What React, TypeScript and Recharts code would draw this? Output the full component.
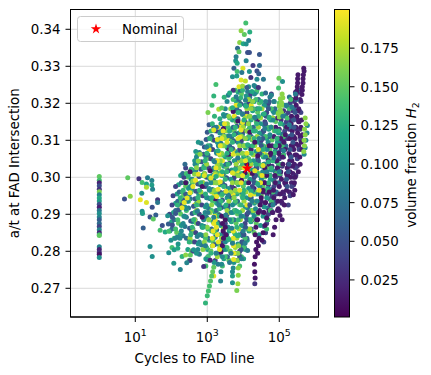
import React from "react";
import { CartesianGrid, Scatter, ScatterChart, Symbols, XAxis, YAxis } from "recharts";

type Pt = [number, number];

const singles: [number, number, number][] = [
  [.79,.2999,.15],[1.10,.2996,.03],[1.34,.2999,.085],[1.19,.2986,.14],[1.31,.2982,.12],[1.31,.2973,.175],[1.46,.2991,.09],[1.46,.2979,.11],
  [1.48,.2968,.09],[1.18,.2957,.1],[.86,.2949,.165],[.70,.2941,.05],[1.14,.2939,.195],[1.31,.2932,.19],[1.62,.2939,.03],[1.62,.2932,.08],
  [1.47,.2919,.05],[1.19,.2908,.1],[1.2,.2902,.11],[1.41,.2893,.05],[1.57,.2898,.06],[1.5,.2887,.15],[1.22,.2863,.06],[1.75,.287,.05],
  [1.9,.2896,.1],[1.92,.2874,.06],[2.03,.2871,.05],[1.69,.2857,.14],[1.83,.2852,.12],[1.93,.2854,.14],[1.99,.283,.1],[2.11,.2835,.09],
  [2.16,.2838,.09],[1.41,.2813,.1],[1.47,.2786,.1],[1.93,.2796,.1],[2.08,.2804,.11],[2.18,.2808,.12],[2.07,.2768,.105],[2.25,.2751,.09],
  [2.43,.2769,.09],[2.3,.2786,.13],[2.53,.279,.15],[2.4,.279,.165],[2.62,.2804,.1],[2.9,.2759,.03],[2.99,.2778,.1],[3.08,.2776,.02],
  [3.37,.272,.09],[3.18,.2733,.19],[3.7,.2733,.11],[3.7,.2715,.1],[3.82,.2694,.16],[3.85,.2712,.17],[4.32,.2712,.03],[2.95,.266,.13],
  [3.0,.268,.135],[3.03,.2693,.14],[3.06,.2706,.14],[3.09,.272,.145],[3.12,.2733,.145],[3.15,.2745,.15],[3.18,.2757,.15],
  [4.07,.3417,.14],[3.94,.3396,.165],[4.18,.3393,.125],[4.03,.3386,.15],[4.15,.337,.085],[3.9,.3364,.165],[4.0,.3361,.12],[4.08,.336,.1],
  [3.84,.3349,.07],[3.88,.3339,.15],[4.12,.3337,.05],[4.17,.3337,.05],[4.45,.3332,.055],[3.8,.3326,.085],[3.79,.3315,.1],[3.83,.3308,.12],
  [4.08,.3315,.09],[4.27,.3302,.035],[4.45,.3302,.07],[3.74,.3295,.06],[3.83,.3286,.14],[3.99,.3295,.19],[3.96,.3283,.08],[4.17,.3286,.1],
  [4.38,.3287,.05],[4.43,.328,.06],[3.7,.3272,.1],[3.82,.3274,.11],[3.94,.3263,.19],[4.06,.326,.18],[4.21,.327,.03],[4.56,.3265,.08],
  [4.99,.3268,.155],[5.09,.3259,.1],[3.24,.3251,.14],[3.18,.322,.13],[3.13,.3195,.14],[3.02,.3175,.16],[3.47,.3216,.13],[3.32,.3184,.175],
  [3.4,.3187,.15],[4.98,.3241,.14],[3.88,.3245,.19],[3.98,.3247,.17],[4.1,.3243,.06],[4.3,.3248,.09],[4.42,.3243,.03],[3.72,.3235,.03],
  [3.62,.3228,.12],[4.62,.3228,.07],[4.78,.3222,.09],[4.24,.3232,.12],
];

const column1 = [.3002,.2992,.2985,.2977,.2968,.2961,.2953,.2944,.2936,.2927,.2919,.291,.2902,.2893,.2885,.2875,.2867,.2858,.285,.2845,.2843,.2812,.2805,.2797,.2792,.2783];
const column1H2 = [.15,.14,.02,.05,.03,.16,.09,.12,.11,.05,.02,.08,.1,.09,.06,.07,.04,.09,.02,.13,.15,.09,.02,.03,.01,.1];

// underlying body of the cloud: each row is [a/t, then log10 cycles read along that level]
const deepTeal: number[][] = [
  [.278,2.96,3.46,4.01],[.2805,2.46,3.01,3.52,4.06],[.283,2.51,3.06,3.55,4.11],[.2855,1.96,2.56,3.12,3.61,4.16],[.288,2.01,2.6,3.16,3.67,4.21],
  [.2905,2.06,2.66,3.22,3.71,4.26],[.293,2.12,2.7,3.26,3.76,4.31],[.2955,2.16,2.76,3.3,3.82,4.36],[.298,2.2,2.81,3.36,3.86,4.42],[.3005,2.26,2.86,3.41,3.9,4.46],
  [.303,2.91,3.46,3.96,4.52],[.3055,2.96,3.5,4.01,4.56],[.308,3.01,3.56,4.06,4.6],[.3105,3.06,3.61,4.12,4.66],[.313,3.66,4.16,4.71],
  [.3155,3.7,4.21,4.76],[.318,3.76,4.26,4.82],[.3205,3.81,4.3,4.86],[.323,3.86,4.36],
];
const deepBlue: number[][] = [
  [.2792,2.78,3.33,3.88],[.2817,2.84,3.38,3.93],[.2842,2.33,2.88,3.42,3.98],[.2867,2.38,2.92,3.48,4.03,4.58],[.2892,2.42,2.98,3.53,4.08,4.64],
  [.2917,2.48,3.03,3.58,4.12,4.68],[.2942,2.53,3.08,3.62,4.18,4.73],[.2967,2.58,3.14,3.68,4.23,4.78],[.2992,2.62,3.18,3.73,4.28,4.84],[.3017,2.68,3.23,3.78,4.32,4.88],
  [.3042,2.74,3.28,3.82,4.38,4.93],[.3067,2.78,3.32,3.88,4.44,4.98],[.3092,2.83,3.38,3.94,4.48,5.02],[.3117,3.43,3.98,4.53,5.08],[.3142,3.48,4.02,4.58,5.14],
  [.3167,3.54,4.08,4.62,5.18],[.3192,4.13,4.68,5.22],[.3217,4.18,4.74,5.28],
];
const deepGreen: number[][] = [
  [.2776,2.5,3.05,3.6],[.2801,2.56,3.1,3.64],[.2826,2.6,3.16,3.7],[.2851,2.15,2.65,3.2,3.75,4.3],[.2876,2.2,2.7,3.24,3.8,4.36],[.2901,2.26,2.76,3.3,3.84,4.4],
  [.2926,2.3,2.8,3.35,3.9,4.46],[.2951,2.34,2.85,3.4,3.96,4.5],[.2976,2.4,2.9,3.46,4,4.55],[.3001,2.46,2.96,3.5,4.05,4.6],[.3026,3,3.54,4.1,4.66],
  [.3051,3.05,3.6,4.15,4.7],[.3076,3.1,3.66,4.2,4.74],[.3101,3.16,3.7,4.25,4.8],[.3126,3.2,3.75,4.3,4.86],[.3151,3.8,4.36,4.9],[.3176,3.85,4.4,4.96],[.3201,3.9,4.45,5],[.3226,3.95],
];
const deepDark: number[][] = [
  [.2905,4.55,4.82],[.293,4.6,4.88,5.08],[.2955,4.66,4.92,5.12,5.35],[.298,4.7,4.98,5.18,5.4],[.3005,4.75,5.02,5.22,5.46],[.303,4.8,5.08,5.28,5.5],
  [.3055,4.85,5.12,5.32,5.52],[.308,4.9,5.18,5.38,5.55],[.3105,4.95,5.22,5.42,5.6],[.313,5,5.28,5.48,5.58],[.3155,5.05,5.32,5.52],[.318,5.12,5.38,5.56],[.3205,5.42,5.6],[.323,5.45,5.58],
];
const bodyTeal: number[][] = [
  [.277,3.19,3.74],[.2795,2.7,3.24,3.78],[.282,2.19,2.75,3.28,3.85],[.2845,2.25,2.78,3.35,3.88,4.44],[.287,2.28,2.85,3.38,3.95,4.48],
  [.2895,2.35,2.88,3.45,3.98,4.55],[.292,2.38,2.95,3.48,4.05,4.58],[.2945,2.45,2.98,3.55,4.08,4.65],[.297,2.48,3.05,3.58,4.15,4.68],
  [.2995,2.55,3.08,3.65,4.18,4.75],[.302,2.58,3.15,3.68,4.25,4.78],[.3045,2.65,3.18,3.75,4.28,4.85],[.307,2.68,3.25,3.78,4.35,4.88],
  [.3095,2.75,3.28,3.85,4.38,4.95],[.312,3.35,3.88,4.45,4.98],[.3145,3.38,3.95,4.48,5.05],[.317,3.45,3.98,4.55,5.08],[.3195,4.05,4.58,5.15],[.322,4.08],[.3245,4.15],
];
const bodyBlue: number[][] = [
  [.2785,3.02,3.56],[.281,2.96,3.48,4.03],[.2835,2.42,3.02,3.55,4.1],[.286,2.02,2.6,3.12,3.68,4.22],[.2885,2.08,2.66,3.2,3.74,4.26],
  [.291,2.12,2.72,3.25,3.78,4.3,4.78],[.2935,2.18,2.76,3.32,3.84,4.38,4.88],[.296,2.22,2.82,3.35,3.88,4.42,4.92],[.2985,2.28,2.88,3.42,3.94,4.48,4.98],
  [.301,2.32,2.92,3.45,4.0,4.52,5.02],[.3035,2.38,2.98,3.52,4.05,4.58,5.08],[.306,3.02,3.58,4.08,4.62,5.12],[.3085,3.08,3.62,4.15,4.68,5.18],
  [.311,3.12,3.68,4.22,4.72,5.28],[.3135,3.18,3.72,4.28,4.78,5.32],[.316,3.78,4.32,4.82,5.38],[.3185,3.82,4.38,4.88,5.42],[.321,3.88,4.42,5.48],[.3235,3.92,5.52],
];
const bodyNavy: number[][] = [
  [.2775,2.52,3.22,3.84],[.28,2.6,3.35,3.9],[.2825,2.65,3.38,3.96,4.57],[.285,2.68,3.45,3.98,4.62],[.2875,2.75,3.5,4.05,4.65],
  [.29,1.95,2.78,3.55,4.1,4.7],[.2925,2.02,2.85,3.58,4.15,4.75,5.25],[.295,2.05,2.88,3.65,4.2,4.8,5.3],[.2975,2.12,2.95,3.68,4.25,4.85,5.35],
  [.3,2.35,3.0,3.75,4.3,4.9,5.4],[.3025,2.4,3.05,3.8,4.35,4.95,5.45],[.305,3.1,3.85,4.4,5.0,5.5],[.3075,3.15,3.9,4.45,5.05,5.55],
  [.31,3.2,3.95,4.5,5.1,5.6],[.3125,3.26,4.0,4.55,5.15],[.315,4.05,4.6,5.2,5.55],[.3175,4.1,4.65,5.25,5.6],[.32,4.15,4.7,5.3],[.3225,4.2,4.78],
];
const bodyGreen: number[][] = [
  [.276,2.96,3.42,3.9],[.2785,3.02,3.5,3.95],[.281,2.02,2.98,3.55,4.02],[.2835,2.08,2.95,3.58,4.05],[.286,2.12,3.02,3.65,4.12,4.65],
  [.2885,2.18,3.05,3.68,4.15,4.68],[.291,2.22,2.42,3.12,3.75,4.22,4.75],[.2935,2.28,2.48,3.15,3.78,4.25,4.78],[.296,2.32,2.55,3.22,3.85,4.32,4.82],
  [.2985,2.38,2.58,3.25,3.88,4.35,4.88],[.301,2.42,2.65,3.32,3.95,4.42,4.92,5.02],[.3035,2.7,3.36,3.98,4.45,4.98,5.08],[.306,2.72,3.42,4.05,4.52,5.12],
  [.3085,3.48,4.08,4.55,5.08],[.311,3.52,4.15,4.62,5.12],[.3135,3.58,4.18,4.68,5.18],[.316,3.62,4.25,4.72,5.22],[.3185,3.68,4.28,4.78,5.28],[.321,3.72,4.35,5.32],[.3235,3.78,4.38],
];
const bodyLime: number[][] = [
  [.2785,3.28],[.281,3.35,3.78],[.2835,2.52,3.4,3.82],[.286,2.58,3.45,3.88,4.18],[.2885,2.65,3.5,3.92,4.22],[.291,2.7,3.55,3.98,4.28],
  [.2935,2.75,3.6,4.02,4.35],[.296,2.82,3.12,3.65,4.08,4.42],[.2985,2.88,3.18,3.7,4.12,4.48],[.301,2.92,3.22,3.75,4.18,4.52],[.3035,2.98,3.28,3.8,4.22,4.58],
  [.306,3.35,3.85,4.28,4.65],[.3085,3.4,3.9,4.32,4.7],[.311,3.45,3.95,4.38],[.3135,4.0,4.42,4.78],[.316,4.05,4.48,4.82],[.3185,4.1,4.52],[.321,4.15],
];
const bodyDark: number[][] = [
  [.2885,4.4,4.68],[.291,4.45,4.72,5.0],[.2935,4.5,4.78,5.06],[.296,4.55,4.82,5.1,5.28],[.2985,4.6,4.88,5.15,5.34],[.301,4.65,4.92,5.2,5.38],
  [.3035,4.7,4.98,5.25,5.42],[.306,4.75,5.02,5.3,5.48],[.3085,4.8,5.08,5.35,5.54],[.311,4.85,5.12,5.4,5.58],[.3135,4.9,5.18,5.44],[.316,4.95,5.22,5.48],
  [.3185,5.28,5.54],[.321,5.35,5.58],[.3235,5.56],[.297,3.75,4.3],[.3075,3.6,4.22],[.3155,3.85,4.4],
];
const bodyYellow: number[][] = [
  [.2905,3.05,3.62],[.2955,3.2,3.72,4.3],[.2985,2.7,3.3],[.3015,3.38,3.85,4.38],[.3045,3.42,3.9],[.3075,3.05,3.72],[.3105,3.55,4.28],[.3135,3.3,3.92],[.3165,3.75,4.1],[.3195,3.8,4.22],[.2925,2.65,4.1],[.3065,4.55],
];

const rowLayers: [number[][], number][] = [
  [deepDark, .03], [deepBlue, .08], [deepTeal, .115], [deepGreen, .15],
  [bodyDark, .018], [bodyNavy, .04], [bodyBlue, .07], [bodyTeal, .105], [bodyYellow, .193], [bodyGreen, .14], [bodyLime, .17],
];

const darkA: Pt[] = [
  [5.68,.3295],[5.69,.3287],[5.67,.3277],[5.66,.3266],[5.66,.3255],[5.64,.3245],[5.64,.3235],[5.63,.3224],
  [5.52,.3277],[5.51,.3266],[5.51,.3255],[5.5,.3245],[5.49,.3234],[5.47,.3224],[5.46,.3214],
  [5.47,.3195],[5.52,.318],[5.49,.3165],[5.54,.315],[5.46,.3135],[5.51,.312],[5.44,.3105],[5.47,.309],[5.4,.3075],[5.44,.306],[5.35,.3045],[5.37,.303],[5.3,.3015],[5.31,.3],
  [5.62,.3155],[5.6,.3135],[5.64,.3115],[5.61,.3095],[5.63,.3075],[5.57,.3055],[5.58,.3035],[5.53,.3015],[5.44,.3],[5.42,.2985],[5.43,.2965],[5.39,.2953],
  [5.34,.3165],[5.33,.3145],[5.36,.3125],[5.29,.3105],[5.33,.3085],[5.27,.3065],[5.29,.3045],[5.22,.3025],[5.24,.3005],[5.18,.2985],[5.2,.2965],[5.15,.2945],[5.14,.2925],
  [5.2,.3135],[5.17,.3115],[5.13,.3095],[5.16,.3075],[5.09,.3055],[5.1,.3035],[5.04,.3015],[5.06,.2995],[5,.2975],[5.02,.2955],[4.96,.2935],[4.97,.2915],[5.08,.2885],[5.02,.2897],
  [5.04,.3105],[5,.3085],[4.98,.3065],[4.93,.3045],[4.95,.3025],[4.88,.3005],[4.89,.2985],[4.84,.2965],[4.85,.2945],[4.79,.2925],[4.81,.2905],[4.95,.291],[4.91,.2885],[4.87,.2865],[4.83,.2845],
];
const blueA: Pt[] = [
  [5.44,.3175],[5.4,.3155],[5.41,.3135],[5.35,.3115],[5.38,.3095],[5.3,.3075],[5.33,.3055],[5.27,.3035],[5.25,.3015],[5.2,.2995],[5.22,.2975],
  [3.05,.3142],[3,.3122],[2.97,.3102],[2.92,.3082],[2.9,.3062],[2.84,.3042],[2.82,.3022],[2.77,.3002],[2.74,.2982],[2.69,.2962],[2.66,.2942],[2.62,.2922],[2.58,.2902],[2.54,.2882],[2.51,.2862],
  [3.93,.3198],[3.9,.3178],[3.85,.3158],[3.82,.3138],[3.78,.3118],[3.74,.3098],[3.7,.3078],[3.66,.3058],[3.62,.3038],[3.58,.3018],[3.54,.2998],[3.49,.2978],[3.46,.2958],[3.42,.2938],[3.38,.2918],[3.34,.2898],[3.3,.2878],[3.26,.2858],[3.22,.2838],[3.19,.2818],
  [4.72,.3205],[4.7,.3185],[4.64,.3165],[4.62,.3145],[4.57,.3125],[4.54,.3105],[4.5,.3085],[4.46,.3065],[4.42,.3045],[4.38,.3025],[4.34,.3005],[4.3,.2985],[4.26,.2965],[4.22,.2945],[4.18,.2925],[4.14,.2905],[4.1,.2885],[4.06,.2865],[4.02,.2845],[3.98,.2825],[3.94,.2805],[3.9,.2785],
  [2.4,.2955],[2.35,.2938],[2.28,.2925],[2.2,.2912],[2.12,.2902],[2.03,.2892],
];
const tealA: Pt[] = [
  [2.7,.3055],[2.66,.3035],[2.62,.3015],[2.58,.2995],[2.53,.2975],[2.5,.2955],[2.45,.2935],[2.41,.2915],[2.37,.2895],[2.33,.2875],[2.28,.2855],[2.24,.2835],
  [3.55,.3205],[3.5,.3185],[3.47,.3165],[3.42,.3145],[3.39,.3125],[3.34,.3105],[3.31,.3085],[3.26,.3065],[3.22,.3045],[3.18,.3025],[3.14,.3005],[3.1,.2985],[3.06,.2965],[3.02,.2945],[2.98,.2925],[2.94,.2905],[2.9,.2885],[2.86,.2865],[2.82,.2845],[2.78,.2825],[2.74,.2805],
  [4.38,.3265],[4.34,.3245],[4.31,.3225],[4.26,.3205],[4.23,.3185],[4.18,.3165],[4.15,.3145],[4.1,.3125],[4.06,.3105],[4.02,.3085],[3.98,.3065],[3.94,.3045],[3.9,.3025],[3.86,.3005],[3.82,.2985],[3.78,.2965],[3.74,.2945],[3.7,.2925],[3.66,.2905],[3.62,.2885],[3.58,.2865],[3.54,.2845],[3.5,.2825],[3.46,.2805],[3.42,.2785],[3.4,.2765],[3.38,.2745],
  [4.85,.3175],[4.82,.3155],[4.77,.3135],[4.74,.3115],[4.69,.3095],[4.66,.3075],[4.62,.3055],[4.58,.3035],[4.54,.3015],[4.5,.2995],[4.46,.2975],[4.42,.2955],[4.38,.2935],[4.34,.2915],[4.3,.2895],
  [5.78,.314],[5.77,.312],[5.74,.31],[5.72,.308],[5.69,.3062],
  [3.78,.2795],[3.76,.2775],[3.72,.2755],[3.7,.2745],
];
const greenA: Pt[] = [
  [3.2,.3165],[3.14,.3145],[3.1,.3125],[3.07,.3105],[3.02,.3085],[2.99,.3065],[2.94,.3045],[2.9,.3025],[2.86,.3005],[2.82,.2985],[2.78,.2965],[2.74,.2945],[2.7,.2925],[2.66,.2905],[2.62,.2885],[2.58,.2865],[2.54,.2845],[2.5,.2825],
  [3.98,.3235],[3.93,.3215],[3.9,.3195],[3.86,.3175],[3.81,.3155],[3.78,.3135],[3.74,.3115],[3.7,.3095],[3.66,.3075],[3.62,.3055],[3.58,.3035],[3.54,.3015],[3.5,.2995],[3.46,.2975],[3.42,.2955],[3.38,.2935],[3.34,.2915],[3.3,.2895],[3.26,.2875],[3.22,.2855],[3.18,.2835],[3.14,.2815],[3.1,.2795],
  [4.52,.3225],[4.5,.3205],[4.46,.3185],[4.42,.3165],[4.37,.3145],[4.34,.3125],[4.3,.3105],[4.26,.3085],[4.22,.3065],[4.18,.3045],[4.14,.3025],[4.1,.3005],[4.06,.2985],[4.02,.2965],[3.98,.2945],[3.94,.2925],[3.9,.2905],[3.86,.2885],[3.82,.2865],[3.78,.2845],
  [5.03,.3145],[4.98,.3125],[4.94,.3105],[4.9,.3085],[4.86,.3065],[4.82,.3045],[4.78,.3025],[4.74,.3005],[4.7,.2985],[4.66,.2965],
  [2.55,.3022],[2.47,.3005],[2.42,.2985],[2.33,.2965],[2.25,.2945],[2.17,.2925],
];
const limeA: Pt[] = [
  [5.08,.3225],[5.03,.3212],[5.06,.3202],[5,.3192],[5.03,.3182],[4.97,.3172],[5,.3163],[5.1,.3215],[5.08,.3195],[5.06,.3175],
  [3.65,.3185],[3.6,.3165],[3.56,.3145],[3.52,.3125],[3.48,.3105],[3.44,.3085],[3.4,.3065],[3.36,.3045],[3.32,.3025],[3.28,.3005],[3.24,.2985],[3.2,.2965],[3.16,.2945],[3.12,.2925],[3.08,.2905],[3.04,.2885],[3,.2865],[2.96,.2845],[2.92,.2825],[2.88,.2805],
  [4.26,.3205],[4.22,.3185],[4.18,.3165],[4.14,.3145],[4.1,.3125],[4.06,.3105],[4.02,.3085],[3.98,.3065],[3.94,.3045],[3.9,.3025],[3.86,.3005],[3.82,.2985],[3.78,.2965],[3.74,.2945],
  [3.87,.2815],[3.85,.2795],[3.84,.2775],[3.86,.2755],[3.86,.2735],
  [5.72,.316],[5.74,.3145],[5.7,.313],[5.72,.3115],[5.69,.31],[5.7,.3085],[5.68,.307],
  [2.8,.3062],[2.75,.3044],[2.7,.3026],[2.65,.3008],[2.6,.299],
];
const yellowA: Pt[] = [
  [3.48,.3145],[3.44,.3125],[3.4,.3105],[3.36,.3085],[3.32,.3065],[3.28,.3045],[3.24,.3025],[3.2,.3005],
  [3.2,.2895],[3.18,.2875],[3.16,.2855],[3.14,.2835],[3.15,.2815],[3.22,.2885],[3.25,.2865],[3.28,.2845],[3.31,.2825],[3.34,.2805],
  [3.72,.2855],[3.72,.2835],[3.73,.2815],[3.74,.2795],[3.73,.2778],
  [4.1,.3065],[4.06,.3045],[4.02,.3025],[3.98,.3005],[3.94,.2985],[3.9,.2965],
  [2.75,.3008],[2.67,.2992],[2.6,.2975],[2.52,.2958],[2.44,.2944],[2.36,.2932],[2.3,.2918],
  [3.4,.3008],[3.36,.2988],[3.3,.2968],[3.26,.2948],
  [4.52,.3005],[4.48,.2985],[4.44,.2965],[3.98,.3148],[3.94,.3128],[3.9,.3108],
];
const darkB: Pt[] = [
  [4.72,.3085],[4.76,.3065],[4.69,.3045],[4.6,.3025],[4.65,.3005],[4.58,.2985],[4.55,.2965],[4.5,.2945],[4.47,.2925],[4.42,.2905],[4.38,.2885],[4.35,.2865],[4.33,.2845],[4.37,.2825],[4.35,.2805],[4.33,.2785],[4.31,.2765],[4.32,.2745],[4.33,.2728],[4.44,.2835],[4.42,.2815],[4.4,.2795],
  [3.4,.2895],[3.42,.2875],[3.44,.2855],[3.45,.2835],[3.42,.2815],[3.38,.2798],[3.5,.2885],[3.5,.2865],[3.52,.2845],
  [4.1,.3035],[4.05,.3012],[3.95,.2992],[4.15,.2985],[4.25,.301],[4.4,.3058],[4.32,.3095],[4.18,.3122],[3.85,.3152],[3.72,.3178],[3.45,.3132],[3.08,.3018],[2.86,.2975],[2.52,.3015],[2.4,.2985],
  [4.72,.296],[4.62,.2932],[4.58,.2905],[4.65,.289],[4.6,.287],[4.55,.285],[4.52,.283],[3.6,.3062],[3.22,.2942],[2.86,.2892],
];
const tealB: Pt[] = [
  [4.06,.3208],[3.98,.3172],[3.6,.3112],[3.2,.3042],[2.98,.2982],[2.72,.2908],[3.58,.2952],[3.94,.2895],[4.25,.2935],[4.44,.3105],[3.85,.3052],[4.32,.3162],[4.6,.3132],[4.85,.3052],[5.12,.3072],[5.28,.3142],[5.35,.319],[5.45,.3225],[5.2,.3195],[5.1,.3165],
  [3.02,.2905],[3.18,.2892],[3.32,.2925],[3.52,.2898],[3.68,.2862],[3.7,.2822],[3.66,.2795],[4,.2855],[4.05,.2822],[4.12,.2802],[3.95,.278],[3.62,.277],[3.3,.2765],[3.25,.2795],[2.95,.2815],[2.72,.284],
  [2.98,.3082],[3.25,.3135],[3.58,.3222],[3.8,.3218],[4.12,.3232],[4.62,.3205],[4.85,.3205],[5,.3015],[4.82,.2925],[4.66,.3015],
];
const greenB: Pt[] = [
  [4.02,.3155],[3.62,.3125],[3.3,.3072],[3.05,.3002],[3.52,.2925],[3.82,.2908],[4.22,.2962],[4.35,.3035],[4.55,.3075],[4.7,.3042],[4.12,.3088],[3.78,.3022],[3.42,.3015],[3.12,.2945],[2.88,.2865],[3.6,.2832],[3.85,.2842],[4.2,.2885],[4.28,.3125],[4.42,.3185],[3.7,.3188],[3.35,.3158],[3.55,.3065],
  [4,.2955],[4.4,.2982],[3.24,.3002],[2.95,.2955],[4.08,.3192],[4.72,.3162],[4.9,.3125],[4.58,.3172],
];
const yellowB: Pt[] = [
  [3.7,.3012],[4.32,.3018],[4.55,.3032],[3.55,.3095],[3.28,.3102],[3.85,.3105],[4.2,.2952],[3.52,.2962],[3.1,.2998],[2.92,.3005],[4.42,.3075],[3.18,.3128],[3.72,.3062],
];

const layers: [Pt[], number][] = [
  [darkA, .015], [blueA, .055], [tealA, .095], [greenA, .13], [limeA, .165], [darkB, .012], [yellowA, .193], [tealB, .085], [greenB, .125], [yellowB, .19],
];

const nominal = [{ cycles: 10 ** 4.11, at: .3024 }];
const xTicks = [10, 1000, 100000];
const yTicks = [.27, .28, .29, .30, .31, .32, .33, .34];
const barTicks = [.025, .05, .075, .1, .125, .15, .175];

const viridis = ["#440154", "#482475", "#414487", "#355f8d", "#2a788e", "#21918c", "#22a884", "#44bf70", "#7ad151", "#bddf26", "#fde725"];
const h2Min = .001;
const h2Max = .2;

const hex = (s: string, i: number) => parseInt(s.slice(i, i + 2), 16);
function h2Color(v: number) {
  const t = (Math.min(h2Max, Math.max(h2Min, v)) - h2Min) / (h2Max - h2Min) * (viridis.length - 1);
  const i = Math.min(viridis.length - 2, Math.floor(t));
  const f = t - i;
  const c = [1, 3, 5].map((k) => Math.round(hex(viridis[i], k) + (hex(viridis[i + 1], k) - hex(viridis[i], k)) * f));
  return `rgb(${c[0]},${c[1]},${c[2]})`;
}

const FONT = "'DejaVu Sans'";
const FS = 13.4;

const toRows = (pts: Pt[]) => pts.map(([x, y]) => ({ cycles: 10 ** x, at: y }));
const rowsToPts = (rows: number[][]) => rows.flatMap(([y, ...xs]) => xs.map((x) => [x, y] as Pt));
const dot = (fill: string) => (p: any) => <circle cx={p.cx} cy={p.cy} r={2.5} fill={fill} />;

function LogTick({ x, y, payload }: any) {
  const exp = Math.round(Math.log10(payload.value));
  return (
    <text x={x} y={y + 18} textAnchor="middle" fontFamily={FONT} fontSize={FS} fill="#000">
      10<tspan dy={-6} fontSize={FS * .7}>{exp}</tspan>
    </text>
  );
}

function ColorBar() {
  const top = 9.5, bottom = 317, left = 334.5, right = 349.5;
  const pos = (v: number) => bottom - (v - h2Min) / (h2Max - h2Min) * (bottom - top);
  return (
    <svg width={431} height={375} style={{ position: "absolute", left: 0, top: 0, pointerEvents: "none" }}>
      <defs>
        <linearGradient id="vir" x1="0" y1="1" x2="0" y2="0">
          {viridis.map((c, i) => <stop key={c} offset={i / (viridis.length - 1)} stopColor={c} />)}
        </linearGradient>
      </defs>
      <rect x={70.5} y={9.5} width={248} height={307.5} fill="none" stroke="#000" strokeWidth={1} />
      <rect x={left} y={top} width={right - left} height={bottom - top} fill="url(#vir)" stroke="#000" strokeWidth={1} />
      {barTicks.map((v) => (
        <g key={v}>
          <line x1={right} x2={right + 5} y1={pos(v)} y2={pos(v)} stroke="#000" />
          <text x={right + 11} y={pos(v) + 5} fontFamily={FONT} fontSize={FS} fill="#000">{v.toFixed(3)}</text>
        </g>
      ))}
      <text transform="translate(416,165) rotate(-90)" textAnchor="middle" fontFamily={FONT} fontSize={FS} fill="#000">
        volume fraction <tspan fontStyle="italic">H</tspan><tspan dy={3} fontSize={FS * .7}>2</tspan>
      </text>
      <rect x={77.5} y={16.5} width={106} height={25} rx={3} fill="#fff" fillOpacity={.8} stroke="#ccc" />
      <Symbols type="star" size={34} cx={96} cy={29} fill="#ff0000" />
      <text x={122} y={34} fontFamily={FONT} fontSize={FS} fill="#000">Nominal</text>
    </svg>
  );
}

export default function App() {
  return (
    <div style={{ position: "absolute", left: 0, top: 0, width: 431, height: 375, background: "#fff" }}>
      <ScatterChart width={431} height={375} margin={{ top: 9.5, right: 112.5, bottom: 18, left: 0 }}>
        <CartesianGrid stroke="#d9d9d9" strokeWidth={1} />
        <XAxis
          type="number"
          dataKey="cycles"
          scale="log"
          domain={[10 ** -.8, 10 ** 6.09]}
          ticks={xTicks}
          allowDataOverflow
          height={40}
          tick={<LogTick />}
          tickSize={5}
          tickLine={{ stroke: "#000" }}
          axisLine={{ stroke: "#000" }}
          label={{ value: "Cycles to FAD line", position: "insideBottom", offset: -6, fontFamily: FONT, fontSize: FS, fill: "#000" }}
        />
        <YAxis
          type="number"
          dataKey="at"
          domain={[.26224, .34535]}
          ticks={yTicks}
          allowDataOverflow
          width={70.5}
          tickFormatter={(v: number) => v.toFixed(2)}
          tickSize={5}
          tickMargin={5}
          tick={{ fontFamily: FONT, fontSize: FS, fill: "#000" }}
          tickLine={{ stroke: "#000" }}
          axisLine={{ stroke: "#000" }}
          label={{ value: "a/t at FAD Intersection", angle: -90, position: "insideLeft", offset: 14, style: { textAnchor: "middle" }, fontFamily: FONT, fontSize: FS, fill: "#000" }}
        />
        {column1.map((y, i) => (
          <Scatter key={`c${i}`} data={[{ cycles: 1, at: y }]} isAnimationActive={false} shape={dot(h2Color(column1H2[i]))} />
        ))}
        {rowLayers.map(([rows, h2], i) => (
          <Scatter key={`r${i}`} data={toRows(rowsToPts(rows))} isAnimationActive={false} shape={dot(h2Color(h2))} />
        ))}
        {layers.map(([pts, h2], i) => (
          <Scatter key={i} data={toRows(pts)} isAnimationActive={false} shape={dot(h2Color(h2))} />
        ))}
        {singles.map(([x, y, h2], i) => (
          <Scatter key={`s${i}`} data={toRows([[x, y]])} isAnimationActive={false} shape={dot(h2Color(h2))} />
        ))}
        <Scatter data={nominal} isAnimationActive={false} shape={(p: any) => <Symbols type="star" size={40} cx={p.cx} cy={p.cy} fill="#ff0000" />} />
      </ScatterChart>
      <ColorBar />
    </div>
  );
}
